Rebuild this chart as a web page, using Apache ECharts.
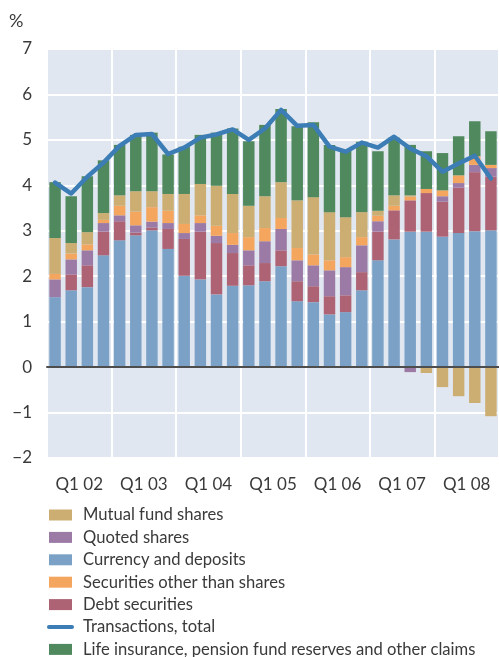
<!DOCTYPE html>
<html>
<head>
<meta charset="utf-8">
<script src="https://cdn.jsdelivr.net/npm/echarts@6/dist/echarts.min.js"></script>
<style>
html,body{margin:0;padding:0;background:#fff;}
#c{width:499px;height:657px;}
</style>
</head>
<body>
<div id="c"></div>
<script>
const quarters = ['Q1 02','Q2 02','Q3 02','Q4 02','Q1 03','Q2 03','Q3 03','Q4 03','Q1 04','Q2 04','Q3 04','Q4 04','Q1 05','Q2 05','Q3 05','Q4 05','Q1 06','Q2 06','Q3 06','Q4 06','Q1 07','Q2 07','Q3 07','Q4 07','Q1 08','Q2 08','Q3 08','Q4 08'];
const yearLabels = ['Q1 02','Q1 03','Q1 04','Q1 05','Q1 06','Q1 07','Q1 08'];
const yTicks = [-2,-1,0,1,2,3,4,5,6,7];

const currencyDeposits = [1.54,1.69,1.76,2.46,2.79,2.90,3.01,2.60,2.01,1.93,1.60,1.79,1.80,1.89,2.22,1.45,1.43,1.16,1.21,1.69,2.35,2.81,2.98,2.98,2.87,2.95,2.99,3.01];
const debtSecurities = [0,0.35,0.48,0.52,0.42,0.06,0.06,0.44,0.81,1.05,1.13,0.72,0.44,0.40,0.35,0.44,0.35,0.40,0.37,0.40,0.63,0.64,0.69,0.85,0.77,1.00,1.30,1.18];
const quotedShares = [0.39,0.33,0.33,0.19,0.13,0.16,0.13,0.13,0.13,0.19,0.16,0.18,0.33,0.48,0.47,0.46,0.46,0.57,0.62,0.59,0.23,0,-0.11,0,0.12,0.10,0.16,0.19];
const securitiesOther = [0.12,0.13,0.13,0.07,0.21,0.30,0.32,0.27,0.20,0.17,0.22,0.26,0.29,0.29,0.24,0.27,0.24,0.22,0.22,0.18,0.12,0.10,0.08,0.09,0.13,0.17,0.19,0.07];
const mutualFundShares = [0.79,0.23,0.27,0.15,0.23,0.45,0.35,0.37,0.66,0.69,0.88,0.86,0.69,0.70,0.79,1.05,1.26,1.06,0.88,0.55,0.11,0.23,0.03,-0.13,-0.44,-0.64,-0.79,-1.08];
const lifeInsurance = [1.23,1.03,1.23,1.16,1.11,1.24,1.29,0.87,1.04,1.08,1.17,1.44,1.42,1.57,1.61,1.63,1.65,1.48,1.46,1.55,1.31,1.27,1.11,0.83,0.82,0.86,0.77,0.74];
const transactionsTotal = [4.06,3.82,4.19,4.50,4.87,5.11,5.13,4.69,4.83,5.05,5.12,5.23,5.00,5.25,5.66,5.31,5.33,4.85,4.74,4.94,4.83,5.07,4.81,4.64,4.30,4.48,4.65,4.15];

const FONT = 'Lato';
const TXT = '#3a3a3a';
const C = {
  mutual:'#cdae72', quoted:'#9c7aa6', currency:'#7ba2c6', secOther:'#f5a65e',
  debt:'#ad6374', life:'#4f895d', line:'#3b7db4'
};

function barSeries(name, data, color){
  return {name, type:'bar', stack:'tot', data, barCategoryGap:'29%',
    itemStyle:{color}, xAxisIndex:0, yAxisIndex:0, emphasis:{disabled:true}};
}

const chart = echarts.init(document.getElementById('c'), null, {renderer:'canvas'});
chart.setOption({
  animation:false,
  backgroundColor:'#ffffff',
  textStyle:{fontFamily:FONT},
  grid:{left:47, top:49, width:454, height:409, show:true, backgroundColor:'#e1e7f1', borderWidth:0},
  graphic:[{type:'text', left:9, top:12, style:{text:'%', fontFamily:FONT, fontSize:18, fill:TXT}}],
  xAxis:[
    {type:'category', data:quarters, position:'bottom', z:10,
      axisLine:{show:true, onZero:true, lineStyle:{color:'#4d4d4d', width:2}},
      axisTick:{show:false}, axisLabel:{show:false}, splitLine:{show:false}},
    {type:'category', data:yearLabels, position:'bottom', boundaryGap:true,
      axisLine:{show:false, onZero:false}, axisTick:{show:false},
      axisLabel:{interval:0, color:TXT, fontSize:17, fontFamily:FONT, margin:18},
      splitLine:{show:true, interval:0, lineStyle:{color:'#ffffff', width:2}}}
  ],
  yAxis:{type:'value', min:-2, max:7, interval:1,
    axisLine:{show:false}, axisTick:{show:false},
    axisLabel:{color:TXT, fontSize:17, fontFamily:FONT, margin:15,
      formatter:v => (yTicks.indexOf(v) >= 0 ? String(v).replace('-', '\u2212') : '')},
    splitLine:{show:true, lineStyle:{color:'#ffffff', width:2}}},
  legend:{orient:'vertical', left:47, top:506, height:220, padding:0,
    itemWidth:23, itemHeight:11, itemGap:4.4,
    selectedMode:false,
    textStyle:{fontFamily:FONT, fontSize:16.6, color:TXT, lineHeight:18, padding:[0,0,0,6]},
    data:[
      {name:'Mutual fund shares', icon:'rect'},
      {name:'Quoted shares', icon:'rect'},
      {name:'Currency and deposits', icon:'rect'},
      {name:'Securities other than shares', icon:'rect'},
      {name:'Debt securities', icon:'rect'},
      {name:'Transactions, total', itemStyle:{color:'rgba(0,0,0,0)', borderWidth:0, opacity:0},
        lineStyle:{color:C.line, width:4, cap:'round'}},
      {name:'Life insurance, pension fund reserves and other claims', icon:'rect'}
    ]},
  series:[
    barSeries('Currency and deposits', currencyDeposits, C.currency),
    barSeries('Debt securities', debtSecurities, C.debt),
    barSeries('Quoted shares', quotedShares, C.quoted),
    barSeries('Securities other than shares', securitiesOther, C.secOther),
    barSeries('Mutual fund shares', mutualFundShares, C.mutual),
    barSeries('Life insurance, pension fund reserves and other claims', lifeInsurance, C.life),
    {name:'Transactions, total', type:'line', data:transactionsTotal, symbol:'none', z:5,
      xAxisIndex:0, yAxisIndex:0,
      lineStyle:{color:C.line, width:4.5, join:'round', cap:'round'}, itemStyle:{color:C.line},
      emphasis:{disabled:true}}
  ]
});
</script>
</body>
</html>
